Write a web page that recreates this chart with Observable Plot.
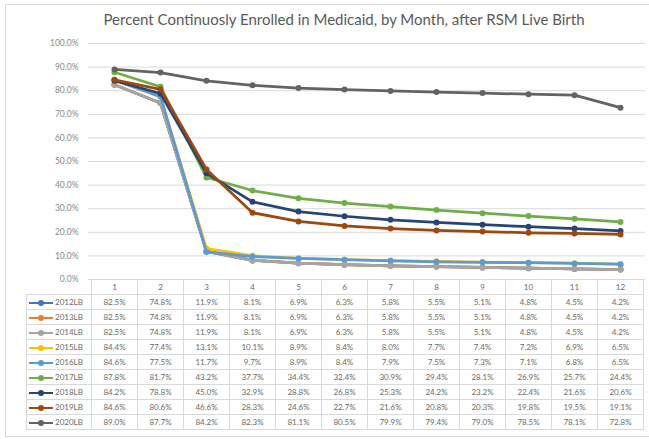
<!DOCTYPE html>
<html><head><meta charset="utf-8">
<script src="https://cdn.jsdelivr.net/npm/d3@7"></script>
<script src="https://cdn.jsdelivr.net/npm/@observablehq/plot@0.6"></script>
<style>
body{margin:0;background:#fff;font-family:Lato,"Liberation Sans",sans-serif;width:649px;height:439px;overflow:hidden;position:relative;}
#frame{position:absolute;left:5px;top:4px;width:700px;height:433px;border:1px solid #d9d9d9;box-sizing:border-box;}
#title{position:absolute;left:0;top:10px;width:688px;text-align:center;font-size:15px;color:#595959;}
#chart{position:absolute;left:0;top:30px;}
#tablewrap{position:absolute;left:0;top:279px;}
table{border-collapse:collapse;table-layout:fixed;font-size:8px;color:#6a6a6a;}
td{border:1px solid #d9d9d9;padding:0;height:14px;text-align:center;white-space:nowrap;overflow:hidden;}
td.blank{border-top:none;border-left:none;}
td.lab{text-align:left;}
.key{display:inline-block;position:relative;width:24px;height:8px;vertical-align:middle;margin:0 2px 0 2px;}
.key .ln{position:absolute;left:0;right:0;top:3px;height:2.5px;}
.key .dt{position:absolute;left:9px;top:1px;width:6px;height:6px;border-radius:50%;}
</style></head><body>
<div id="frame"></div>
<div id="title">Percent Continuosly Enrolled in Medicaid, by Month, after RSM Live Birth</div>
<div id="chart"></div>
<div id="tablewrap"></div>
<script>
const months = ["1","2","3","4","5","6","7","8","9","10","11","12"];
const series = ["2012LB","2013LB","2014LB","2015LB","2016LB","2017LB","2018LB","2019LB","2020LB"];
const colors = ["#4472C4","#ED7D31","#A5A5A5","#FFC000","#5B9BD5","#70AD47","#264478","#9E480E","#636363"];
const yTicks = [0,10,20,30,40,50,60,70,80,90,100];

const v2012 = [82.5,74.8,11.9,8.1,6.9,6.3,5.8,5.5,5.1,4.8,4.5,4.2];
const v2013 = [82.5,74.8,11.9,8.1,6.9,6.3,5.8,5.5,5.1,4.8,4.5,4.2];
const v2014 = [82.5,74.8,11.9,8.1,6.9,6.3,5.8,5.5,5.1,4.8,4.5,4.2];
const v2015 = [84.4,77.4,13.1,10.1,8.9,8.4,8.0,7.7,7.4,7.2,6.9,6.5];
const v2016 = [84.6,77.5,11.7,9.7,8.9,8.4,7.9,7.5,7.3,7.1,6.8,6.5];
const v2017 = [87.8,81.7,43.2,37.7,34.4,32.4,30.9,29.4,28.1,26.9,25.7,24.4];
const v2018 = [84.2,78.8,45.0,32.9,28.8,26.8,25.3,24.2,23.2,22.4,21.6,20.6];
const v2019 = [84.6,80.6,46.6,28.3,24.6,22.7,21.6,20.8,20.3,19.8,19.5,19.1];
const v2020 = [89.0,87.7,84.2,82.3,81.1,80.5,79.9,79.4,79.0,78.5,78.1,72.8];
const values = [v2012,v2013,v2014,v2015,v2016,v2017,v2018,v2019,v2020];

const pct = d => d.toFixed(1) + "%";
const rowsOf = i => values[i].map((v, j) => ({series: series[i], month: months[j], value: v}));

const chart = Plot.plot({
  width: 649, height: 250,
  marginTop: 13, marginBottom: 1, marginLeft: 88, marginRight: 4,
  x: {type: "band", domain: months, padding: 0, axis: null},
  y: {domain: [0, 100], axis: null},
  color: {domain: series, range: colors},
  style: {fontFamily: "Lato, 'Liberation Sans', sans-serif", fontSize: "8.5px", background: "transparent", overflow: "visible"},
  marks: [
    Plot.gridY(yTicks, {stroke: "#d9d9d9", strokeOpacity: 1}),
    Plot.axisY(yTicks, {tickSize: 0, tickPadding: 10, tickFormat: pct, fill: "#8a8a8a", label: null}),
    ...series.flatMap((s, i) => [
      Plot.lineY(rowsOf(i), {x: "month", y: "value", stroke: "series", strokeWidth: 2.75}),
      Plot.dot(rowsOf(i), {x: "month", y: "value", fill: "series", r: 3})
    ])
  ]
});
document.getElementById("chart").appendChild(chart);

// Data table aligned with the chart's x scale
const xs = chart.scale("x");
const bw = xs.bandwidth;
const firstLeft = xs.apply(months[0]);
const tableLeft = 26;
const tbl = document.createElement("table");
tbl.style.marginLeft = tableLeft + "px";
const cg = document.createElement("colgroup");
const c0 = document.createElement("col"); c0.style.width = (firstLeft - tableLeft) + "px"; cg.appendChild(c0);
months.forEach(() => { const c = document.createElement("col"); c.style.width = bw + "px"; cg.appendChild(c); });
tbl.appendChild(cg);
tbl.style.width = (firstLeft - tableLeft + bw * months.length) + "px";
const hr = document.createElement("tr");
const blank = document.createElement("td"); blank.className = "blank"; hr.appendChild(blank);
months.forEach(m => { const td = document.createElement("td"); td.textContent = m; hr.appendChild(td); });
tbl.appendChild(hr);
series.forEach((s, i) => {
  const tr = document.createElement("tr");
  const lab = document.createElement("td"); lab.className = "lab";
  const key = document.createElement("span"); key.className = "key";
  const ln = document.createElement("span"); ln.className = "ln"; ln.style.background = colors[i];
  const dt = document.createElement("span"); dt.className = "dt"; dt.style.background = colors[i];
  key.appendChild(ln); key.appendChild(dt);
  lab.appendChild(key);
  lab.appendChild(document.createTextNode(s));
  tr.appendChild(lab);
  values[i].forEach(v => { const td = document.createElement("td"); td.textContent = pct(v); tr.appendChild(td); });
  tbl.appendChild(tr);
});
document.getElementById("tablewrap").appendChild(tbl);
</script>
</body></html>
